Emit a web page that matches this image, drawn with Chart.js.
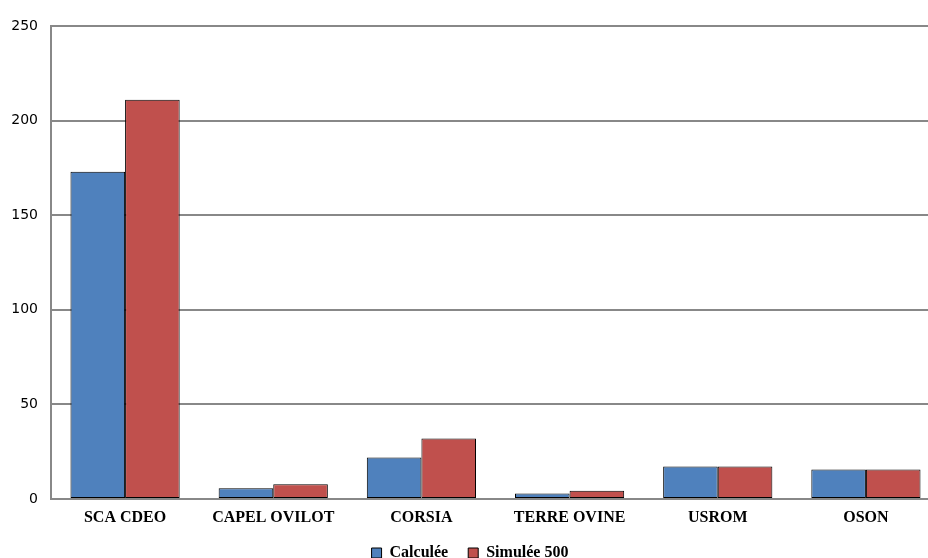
<!DOCTYPE html>
<html>
<head>
<meta charset="utf-8">
<script src="https://cdn.jsdelivr.net/npm/chart.js@4/dist/chart.umd.min.js"></script>
<style>
  html, body { margin: 0; padding: 0; background: #fff; }
  #wrap { width: 928px; height: 558px; position: relative; overflow: hidden; }
  #box { width: 941px; height: 571px; position: absolute; left: 0; top: 0; }
</style>
</head>
<body>
<div id="wrap"><div id="box"><canvas id="c"></canvas></div></div>
<script>
// Groupements de producteurs
const categories = ['SCA CDEO', 'CAPEL OVILOT', 'CORSIA', 'TERRE OVINE', 'USROM', 'OSON'];
// Valeurs calculées
const calculee = [173, 5.7, 21.9, 2.9, 17.2, 15.6];
// Valeurs simulées (500)
const simulee500 = [211, 7.8, 32, 4.4, 17.2, 15.6];
const yTicks = [0, 50, 100, 150, 200, 250];

const serif = '"Liberation Serif", "Times New Roman", serif';
const sans = '"DejaVu Sans", sans-serif';

new Chart(document.getElementById('c'), {
  type: 'bar',
  data: {
    labels: categories,
    datasets: [
      { label: 'Calculée', data: calculee, backgroundColor: '#4F81BD', borderColor: '#000', borderWidth: 1, borderSkipped: false },
      { label: 'Simulée 500', data: simulee500, backgroundColor: '#C0504D', borderColor: '#000', borderWidth: 1, borderSkipped: false }
    ]
  },
  options: {
    responsive: true,
    maintainAspectRatio: false,
    animation: false,
    devicePixelRatio: 1,
    layout: { padding: { top: 26, right: 1, left: 0, bottom: 0 } },
    datasets: { bar: { categoryPercentage: 0.737, barPercentage: 1 } },
    plugins: {
      tooltip: { enabled: false },
      legend: {
        position: 'bottom',
        labels: {
          color: '#000',
          font: { family: serif, size: 16, weight: 'bold' },
          boxWidth: 10,
          boxHeight: 10,
          padding: 20
        }
      }
    },
    scales: {
      x: {
        grid: { display: false, drawTicks: false },
        border: { display: true, color: '#888', width: 2 },
        ticks: { color: '#000', font: { family: serif, size: 16, weight: 'bold' }, padding: 9, maxRotation: 0 },
        afterFit: (s) => { s.height = 26; }
      },
      y: {
        min: 0,
        max: 250,
        afterBuildTicks: (s) => { s.ticks = yTicks.map(v => ({ value: v })); },
        grid: { color: '#888', lineWidth: 2, drawTicks: false },
        border: { display: true, color: '#888', width: 2 },
        ticks: { color: '#000', font: { family: sans, size: 14 }, padding: 13 },
        afterFit: (s) => { s.width = 51; }
      }
    }
  }
});
</script>
</body>
</html>
